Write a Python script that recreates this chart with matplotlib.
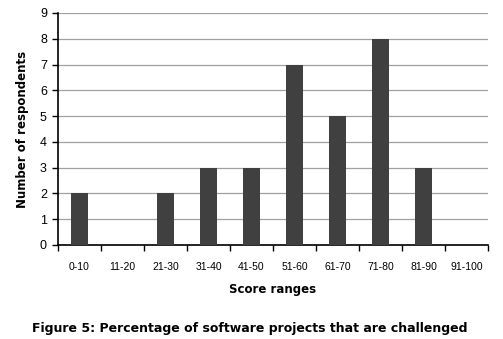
import matplotlib
matplotlib.use("Agg")
import matplotlib.pyplot as plt
import numpy as np

categories = ["0-10", "11-20", "21-30", "31-40", "41-50", "51-60", "61-70", "71-80", "81-90", "91-100"]
values = [2, 0, 2, 3, 3, 7, 5, 8, 3, 0]
yticks = list(range(0, 10))

fig = plt.figure(figsize=(5.03, 3.39), dpi=100)
ax = fig.add_axes([0.1153, 0.2773, 0.855, 0.6844])

x = np.arange(len(categories))
ax.bar(x, values, width=0.4, color="#404040", zorder=3)
ax.set_xlim(-0.5, len(categories) - 0.5)
ax.set_ylim(0, 9)
ax.set_yticks(yticks)
ax.set_yticklabels([str(t) for t in yticks], fontsize=9, family="Liberation Sans")
ax.yaxis.grid(True, color="#a0a0a0", linewidth=0.9, zorder=0)

ax.set_xticks(x)
ax.set_xticklabels(categories, fontsize=7.5, family="Liberation Sans")
ax.tick_params(axis="x", length=0, pad=12)
ax.set_xticks(np.arange(-0.5, len(categories)), minor=True)
ax.tick_params(axis="x", which="minor", length=4, width=1, direction="out")
ax.tick_params(axis="y", length=4, width=1, direction="out", pad=4)

for s in ["top", "right"]:
    ax.spines[s].set_visible(False)
ax.spines["left"].set_linewidth(1.2)
ax.spines["bottom"].set_linewidth(1.2)

ax.set_xlabel("Score ranges", fontsize=8.5, fontweight="bold", labelpad=8)
ax.set_ylabel("Number of respondents", fontsize=8.5, fontweight="bold", labelpad=8)

fig.text(0.497, 0.012, "Figure 5: Percentage of software projects that are challenged",
         ha="center", va="bottom", fontsize=9, fontweight="bold")

fig.savefig("out.png", dpi=100)
